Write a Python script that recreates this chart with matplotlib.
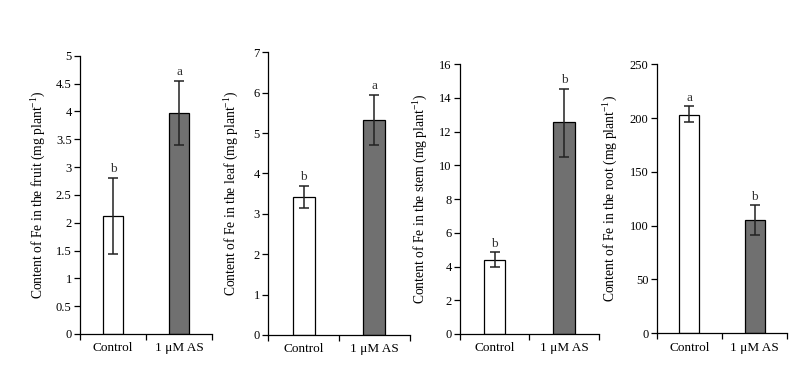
import numpy as np
import matplotlib
matplotlib.use('Agg')
from matplotlib import pyplot as plt

plt.rcParams['font.family'] = ['Liberation Serif', 'DejaVu Serif']
plt.rcParams['mathtext.fontset'] = 'custom'
plt.rcParams['mathtext.rm'] = 'Liberation Serif'
plt.rcParams['font.size'] = 9

groups = ['Control', '1 μM AS']
organs = ['fruit', 'leaf', 'stem', 'root']

# mean, lower and upper end of the error bar, letters
fruit_mean = [2.12, 3.97]
fruit_lo = [1.43, 3.40]
fruit_hi = [2.80, 4.55]
fruit_let = ['b', 'a']

leaf_mean = [3.43, 5.33]
leaf_lo = [3.15, 4.70]
leaf_hi = [3.70, 5.95]
leaf_let = ['b', 'a']

stem_mean = [4.40, 12.55]
stem_lo = [3.95, 10.50]
stem_hi = [4.85, 14.55]
stem_let = ['b', 'b']

root_mean = [203, 105]
root_lo = [196, 91]
root_hi = [211, 119]
root_let = ['a', 'b']

ymax = [5, 7, 16, 250]
ystep = [0.5, 1, 2, 50]

means = [fruit_mean, leaf_mean, stem_mean, root_mean]
los = [fruit_lo, leaf_lo, stem_lo, root_lo]
his = [fruit_hi, leaf_hi, stem_hi, root_hi]
lets = [fruit_let, leaf_let, stem_let, root_let]

# axes boxes in figure fraction (left, bottom, width, height)
boxes = [(0.0994, 0.0924, 0.164, 0.756),
         (0.3333, 0.0897, 0.1757, 0.768),
         (0.5714, 0.0924, 0.1722, 0.733),
         (0.8158, 0.0943, 0.1622, 0.731)]
label_x = [47, 240, 428.7, 618.7]

fig = plt.figure(figsize=(8.05, 3.68), dpi=100)
for i in range(4):
    ax = fig.add_axes(boxes[i])
    x = np.array([0.5, 1.5])
    m = np.array(means[i])
    lo = m - np.array(los[i])
    hi = np.array(his[i]) - m
    ax.bar(x, m, width=0.31, color=['white', '#707070'], edgecolor='black', linewidth=0.9)
    ax.errorbar(x, m, yerr=[lo, hi], fmt='none', ecolor='#222222', elinewidth=1.1, capsize=3.5, capthick=1.1)
    for j in range(2):
        ax.text(x[j], his[i][j] + ymax[i] * 0.01, lets[i][j], ha='center', va='bottom', fontsize=9.5, color='#333333')
    ax.set_xlim(0, 2)
    ax.set_ylim(0, ymax[i])
    yt = np.arange(0, ymax[i] + ystep[i] / 2, ystep[i])
    ax.set_yticks(yt)
    ax.set_yticklabels(['%g' % v for v in yt])
    ax.set_xticks([0, 1, 2])
    ax.set_xticklabels([])
    ax.set_xticks(x, minor=True)
    ax.set_xticklabels(groups, minor=True)
    ax.tick_params(axis='x', which='minor', length=0, pad=6, labelsize=9.5)
    ax.tick_params(axis='x', which='major', length=4, width=0.9)
    ax.tick_params(axis='y', length=4, width=0.9, labelsize=9, pad=2)
    ax.spines['top'].set_visible(False)
    ax.spines['right'].set_visible(False)
    ax.spines['left'].set_linewidth(0.9)
    ax.spines['bottom'].set_linewidth(0.9)
    ax.set_ylabel('Content of Fe in the ' + organs[i] + ' (mg plant$^{-1}$)', fontsize=9.8)
    bx = boxes[i]
    ax.yaxis.set_label_coords((label_x[i] / 805 - bx[0]) / bx[2], 0.5)

fig.savefig('out.png', dpi=100)
